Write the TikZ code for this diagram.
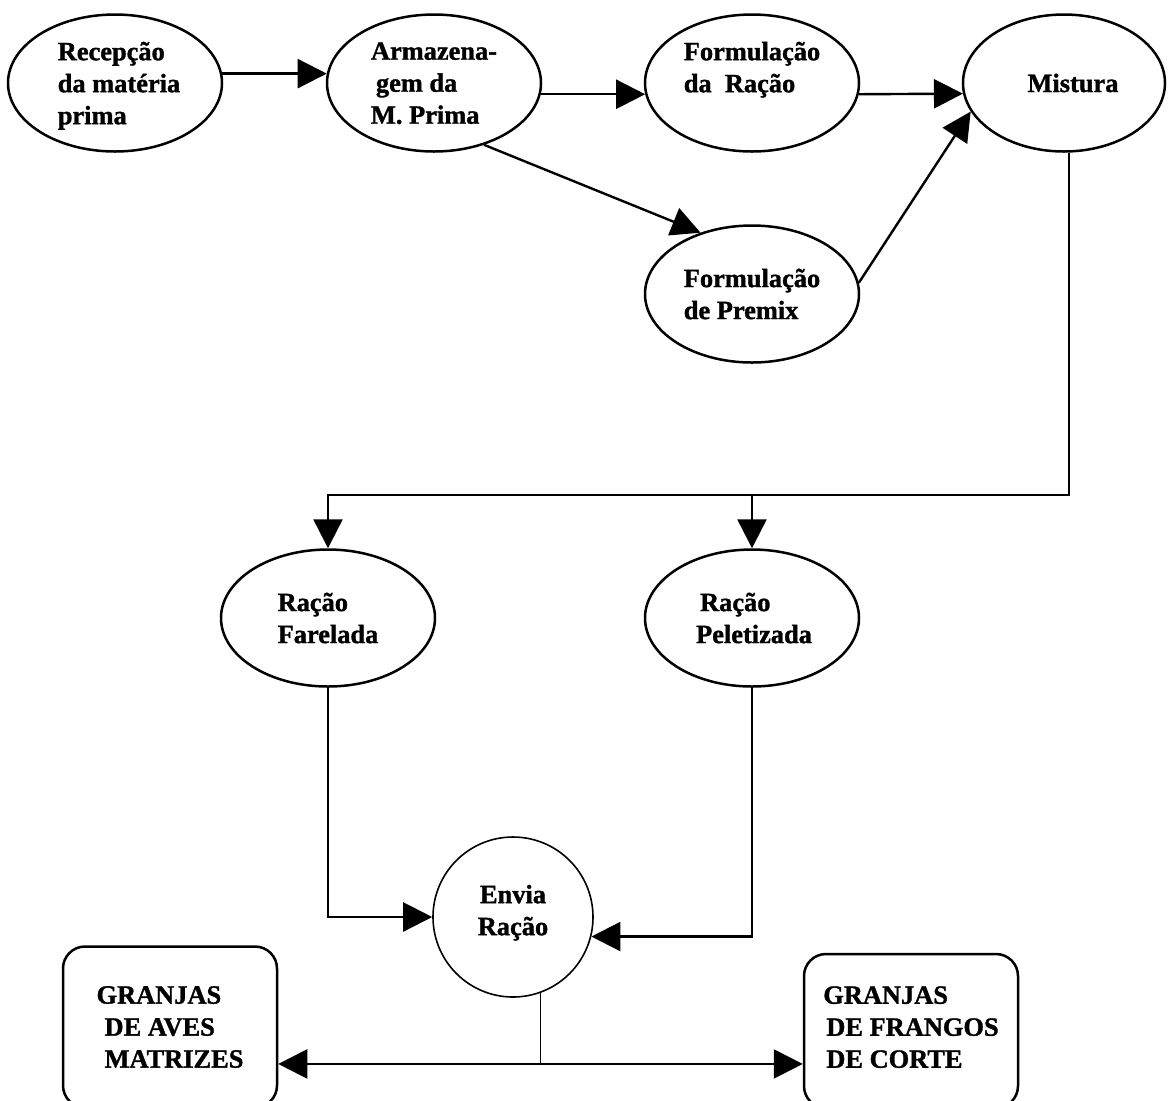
\documentclass[tikz,border=0pt]{standalone}
\usepackage{fontspec}
\setmainfont{Liberation Serif}[BoldFeatures={FakeBold=1.2}]
\usetikzlibrary{shapes.geometric,arrows.meta}
\begin{document}
\begin{tikzpicture}[x=0.5pt,y=-0.5pt,
  every node/.style={font=\bfseries\fontsize{13.2}{16}\selectfont, inner sep=0pt},
  proc/.style={ellipse, draw, line width=1.25pt, minimum width=107pt, minimum height=68.5pt, align=left},
  farm/.style={rectangle, rounded corners=11pt, draw, line width=1.25pt, minimum width=107pt, minimum height=80.5pt, align=left},
  conn/.style={line width=1.2pt},
  arr/.style={conn, -{Triangle[length=14.5pt,width=14.5pt]}}]
\fill[white] (0,0) rectangle (1168,1100);
\useasboundingbox (0,0) rectangle (1168,1100);

% process stages
\node[proc, text depth=-3pt] (rec) at (115,83)
  {\hspace*{4pt}Recepção\\\hspace*{4pt}da matéria\\\hspace*{4pt}prima};
\node[proc, text depth=-3pt] (armz) at (434,83) {Armazena-\\\hspace*{2.5pt}gem da\\M. Prima};
\node[proc] (formr) at (752,83) {Formulação\\da\ \ Ração\\\mbox{}};
\node[proc, minimum width=101pt] (mist) at (1064,83) {\hspace*{9pt}Mistura};
\node[proc] (premix) at (752,294) {Formulação\\de Premix};
\node[proc] (farel) at (328,618) {Ração\\Farelada};
\node[proc] (pelet) at (752,618) {\hspace*{4pt}Ração\\\hspace*{2pt}Peletizada};
\node[circle, draw, line width=0.8pt, minimum size=80pt, align=center, text depth=7pt] (env) at (513,917) {Envia\\Ração};

% destination farms
\node[farm] (gam) at (170,1027) {GRANJAS\\\hspace*{4pt}DE AVES\\\hspace*{4pt}MATRIZES};
\node[farm, minimum height=77pt, text depth=4pt] (gfc) at (911,1031) {GRANJAS\\\hspace*{1.5pt}DE FRANGOS\\\hspace*{1.5pt}DE CORTE};

% flow along the top row
\draw[arr] (rec.5) -- (armz.175);
\draw[arr] (armz.-6) -- (formr.186);
\draw[arr] (formr.-6) -- (mist.186);
\draw[arr] (armz.-51) -- (premix.130);
\draw[arr] (premix.6) -- (mist.197);

% mixing splits into the two feed types
\coordinate (split) at (328,495);
\draw[arr] (mist.-86) |- (split) -- (farel.north);
\draw[arr] (pelet.north |- split) -- (pelet.north);

% both feed types go to dispatch
\draw[arr] (farel.south) |- (env.west);
\draw[arr] (pelet.south) |- (env.-14);

% dispatch to the farms
\path (env.-70) ++(0,71) coordinate (drop);
\draw[line width=0.7pt] (env.-70) -- (drop);
\draw[arr] (drop) -- (gam.east |- drop);
\draw[arr] (drop) -- (gfc.west |- drop);
\end{tikzpicture}
\end{document}
